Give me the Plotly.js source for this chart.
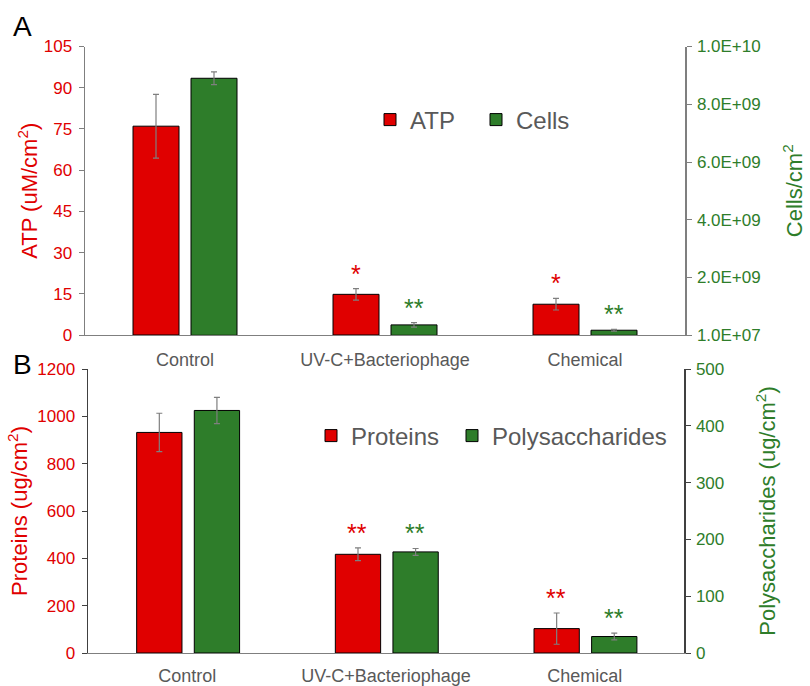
<!DOCTYPE html>
<html>
<head>
<meta charset="utf-8">
<script src="https://cdn.plot.ly/plotly-3.0.1.min.js"></script>
<style>html,body{margin:0;padding:0;background:#fff;}#chart{width:810px;height:686px;}</style>
</head>
<body>
<div id="chart"></div>
<script>
// ---- data ----
const categories = ['Control', 'UV-C+Bacteriophage', 'Chemical'];
const atp = [76, 14.8, 11.2];
const atpErr = [11.6, 2.1, 2.1];
const cells = [8.9e9, 3.6e8, 1.75e8];
const cellsErr = [2.2e8, 0.8e8, 0.3e8];
const proteins = [932, 417, 103];
const proteinsErr = [81, 27, 66];
const polysaccharides = [427, 178, 29];
const polysaccharidesErr = [23, 6, 6];
const atpSig = ['', '*', '*'];
const cellsSig = ['', '**', '**'];
const proteinsSig = ['', '**', '**'];
const polysaccharidesSig = ['', '**', '**'];
const cellsTickVals = [1e7, 2e9, 4e9, 6e9, 8e9, 1e10];
const cellsTickText = ['1.0E+07', '2.0E+09', '4.0E+09', '6.0E+09', '8.0E+09', '1.0E+10'];

// ---- styles ----
const FONT = 'Arial, "Liberation Sans", sans-serif';
const RED = '#E00000';
const GREEN = '#2E7D2A';
const GRAY = '#595959';
const AXIS = '#7f7f7f';
const W = 810, H = 686;
const px = v => v / W;
const py = v => 1 - v / H;

function barTrace(name, y, err, xa, ya, color, offset, width, legend) {
  return {
    type: 'bar', name: name, x: categories, y: y,
    xaxis: xa, yaxis: ya, legend: legend,
    offset: offset, width: width,
    marker: {color: color, line: {color: '#000', width: 1}},
    error_y: {type: 'data', array: err, visible: true, color: '#7f7f7f', thickness: 1.2, width: 3},
    hoverinfo: 'skip'
  };
}

const data = [
  barTrace('ATP', atp, atpErr, 'x', 'y', RED, -0.26, 0.23, 'legend'),
  barTrace('Cells', cells, cellsErr, 'x', 'y2', GREEN, 0.03, 0.23, 'legend2'),
  barTrace('Proteins', proteins, proteinsErr, 'x2', 'y3', RED, -0.255, 0.228, 'legend3'),
  barTrace('Polysaccharides', polysaccharides, polysaccharidesErr, 'x2', 'y4', GREEN, 0.035, 0.228, 'legend4')
];

const annotations = [];
function addSig(sig, vals, errs, xref, yref, color, shift) {
  sig.forEach((s, i) => {
    if (!s) return;
    annotations.push({
      x: categories[i], y: vals[i] + errs[i], xref: xref, yref: yref,
      text: s, showarrow: false, xanchor: 'center', yanchor: 'bottom',
      xshift: shift, yshift: -1,
      font: {family: FONT, size: 25, color: color}
    });
  });
}
addSig(atpSig, atp, atpErr, 'x', 'y', RED, -29);
addSig(cellsSig, cells, cellsErr, 'x', 'y2', GREEN, 29);
addSig(proteinsSig, proteins, proteinsErr, 'x2', 'y3', RED, -29);
addSig(polysaccharidesSig, polysaccharides, polysaccharidesErr, 'x2', 'y4', GREEN, 29);

annotations.push({xref: 'paper', yref: 'paper', x: px(11), y: py(9), xanchor: 'left', yanchor: 'top',
  text: 'A', showarrow: false, font: {family: FONT, size: 28, color: '#000'}});
annotations.push({xref: 'paper', yref: 'paper', x: px(11), y: py(347), xanchor: 'left', yanchor: 'top',
  text: 'B', showarrow: false, font: {family: FONT, size: 28, color: '#000'}});

const xBase = {
  type: 'category', showgrid: false, zeroline: false, showline: true, linecolor: AXIS, linewidth: 1,
  ticks: '', tickfont: {family: FONT, size: 18, color: GRAY},
  range: [-0.5, 2.5], fixedrange: true
};
const yBase = {
  showgrid: false, zeroline: false, showline: true, linecolor: AXIS, linewidth: 1.5,
  ticks: 'outside', ticklen: 5, tickcolor: AXIS, fixedrange: true
};

function legendAt(xLeft, yMid) {
  return {
    orientation: 'h', x: px(xLeft), y: py(yMid), xanchor: 'left', yanchor: 'middle',
    bgcolor: 'rgba(0,0,0,0)', borderwidth: 0,
    font: {family: FONT, size: 24, color: GRAY}
  };
}

const layout = {
  width: W, height: H,
  margin: {l: 0, r: 0, t: 0, b: 0},
  paper_bgcolor: '#fff', plot_bgcolor: 'rgba(0,0,0,0)',
  font: {family: FONT},
  showlegend: true,
  barmode: 'group',
  xaxis: Object.assign({}, xBase, {domain: [px(85), px(685)], anchor: 'y', ticklabelstandoff: 8}),
  xaxis2: Object.assign({}, xBase, {domain: [px(88), px(684)], anchor: 'y3', ticklabelstandoff: 6}),
  yaxis: Object.assign({}, yBase, {
    domain: [py(335), py(46.5)], anchor: 'x', range: [0, 105], tick0: 0, dtick: 15,
    tickfont: {family: FONT, size: 17, color: RED}, ticklabelstandoff: 3,
    title: {text: 'ATP (uM/cm<sup>2</sup>)', font: {family: FONT, size: 22, color: RED}, standoff: 0}
  }),
  yaxis2: Object.assign({}, yBase, {
    overlaying: 'y', side: 'right', anchor: 'x', range: [1e7, 1e10],
    tickmode: 'array', tickvals: cellsTickVals, ticktext: cellsTickText,
    tickfont: {family: FONT, size: 17, color: GREEN}, ticklabelstandoff: 2,
    title: {text: 'Cells/cm<sup>2</sup>', font: {family: FONT, size: 22, color: GREEN}, standoff: 27}
  }),
  yaxis3: Object.assign({}, yBase, {
    domain: [py(653), py(369)], anchor: 'x2', range: [0, 1200], dtick: 200,
    linecolor: '#404040', tickcolor: '#404040',
    tickfont: {family: FONT, size: 17, color: RED}, ticklabelstandoff: 3,
    title: {text: 'Proteins (ug/cm<sup>2</sup>)', font: {family: FONT, size: 22, color: RED}, standoff: 3}
  }),
  yaxis4: Object.assign({}, yBase, {
    overlaying: 'y3', side: 'right', anchor: 'x2', range: [0, 500], dtick: 100,
    linecolor: '#404040', tickcolor: '#404040',
    tickfont: {family: FONT, size: 17, color: GREEN}, ticklabelstandoff: 2,
    title: {text: 'Polysaccharides (ug/cm<sup>2</sup>)', font: {family: FONT, size: 22, color: GREEN}, standoff: 36}
  }),
  legend: legendAt(370, 120),
  legend2: legendAt(476, 120),
  legend3: legendAt(311, 436),
  legend4: legendAt(452, 436),
  annotations: annotations
};

Plotly.newPlot('chart', data, layout, {staticPlot: true, displayModeBar: false});
</script>
</body>
</html>
